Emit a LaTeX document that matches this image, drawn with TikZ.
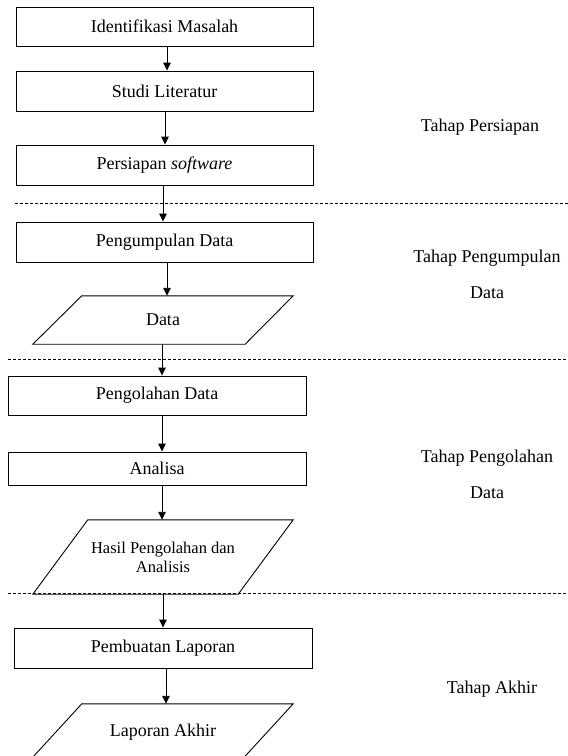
\documentclass[tikz,border=0pt]{standalone}
\usepackage{fontspec}
\setmainfont{Liberation Serif}
\usetikzlibrary{arrows.meta}

\tikzset{
  stepbox/.style={draw, line width=0.9pt, inner sep=0pt, minimum width=297pt,
    minimum height=40pt, font=\fontsize{18}{21}\selectfont},
  iobox/.style={inner sep=0pt, minimum width=260pt, align=center,
    font=\fontsize{18}{21}\selectfont},
  ioline/.style={draw, line width=0.9pt, line join=miter},
  flow/.style={line width=0.9pt, -{Triangle[length=8pt,width=7.5pt]}},
  phase/.style={line width=0.8pt, dash pattern=on 3pt off 2pt},
  phaselabel/.style={align=center, font=\fontsize{18}{36}\selectfont}
}

\begin{document}
\begin{tikzpicture}[x=1pt, y=-1pt]
\useasboundingbox (0,0) rectangle (568,756);

% preparation stage
\node[stepbox] (b1) at (164.5,26.5) [minimum height=39pt] {Identifikasi Masalah};
\node[stepbox] (b2) at (164.5,91) {Studi Literatur};
\node[stepbox] (b3) at (164.5,165) {Persiapan \textit{software}};

% data collection stage
\node[stepbox] (b4) at (164.5,242) {Pengumpulan Data};
\node[iobox, minimum height=48pt] (d1) at (163,320) {Data};
\draw[ioline] ([xshift=49pt]d1.north west) -- (d1.north east)
  -- ([xshift=-48pt]d1.south east) -- (d1.south west) -- cycle;

% processing stage
\node[stepbox, minimum width=298pt, minimum height=39pt] (b6) at (157,395.5) {Pengolahan Data};
\node[stepbox, minimum width=298pt, minimum height=33pt] (b7) at (157,468.5) {Analisa};
\node[iobox, minimum height=74pt, font=\fontsize{16.5}{19}\selectfont] (d2) at (163,557)
  {Hasil Pengolahan dan\\Analisis};
\draw[ioline] ([xshift=55pt]d2.north west) -- (d2.north east)
  -- ([xshift=-55pt]d2.south east) -- (d2.south west) -- cycle;

% final stage
\node[stepbox, minimum width=298pt] (b9) at (163,648) {Pembuatan Laporan};
\node[iobox, minimum height=53pt] (d3) at (163,730.5) {};
\node[font=\fontsize{18}{21}\selectfont] (t3) at (163,732) {Laporan Akhir};
\draw[ioline] ([xshift=49pt]d3.north west) -- (d3.north east)
  -- ([xshift=-49pt]d3.south east) -- (d3.south west) -- cycle;

% stage separators
\coordinate (s1a) at (15,203);  \coordinate (s1b) at (568,203);
\coordinate (s2a) at (8,359);   \coordinate (s2b) at (568,359);
\coordinate (s3a) at (8,593);   \coordinate (s3b) at (568,593);
\draw[phase] (s1a) -- (s1b);
\draw[phase] (s2a) -- (s2b);
\draw[phase] (s3a) -- (s3b);

% flow
\draw[flow] ([xshift=2.5pt]b1.south) -- ([xshift=2.5pt]b2.north);
\draw[flow] ([xshift=0.5pt]b2.south) -- ([xshift=0.5pt]b3.north);
\draw[flow] ([xshift=-1.5pt]b3.south) -- ([xshift=-1.5pt]b4.north);
\draw[flow] ([xshift=2.5pt]b4.south) -- ([xshift=4pt]d1.north);
\draw[flow] ([xshift=-1pt]d1.south) -- ([xshift=5pt]b6.north);
\draw[flow] ([xshift=5pt]b6.south) -- ([xshift=5pt]b7.north);
\draw[flow] ([xshift=5pt]b7.south) -- ([xshift=-1pt]d2.north);
\draw[flow] (d2.south) -- (b9.north);
\draw[flow] ([xshift=3pt]b9.south) -- ([xshift=3pt]d3.north);

% stage labels
\node[phaselabel] (p1) at (480,127) {Tahap Persiapan};
\node[phaselabel] (p2) at (487,274.5) {Tahap Pengumpulan\\Data};
\node[phaselabel] (p3) at (487,474.5) {Tahap Pengolahan\\Data};
\node[phaselabel] (p4) at (492,689) {Tahap Akhir};
\end{tikzpicture}
\end{document}
